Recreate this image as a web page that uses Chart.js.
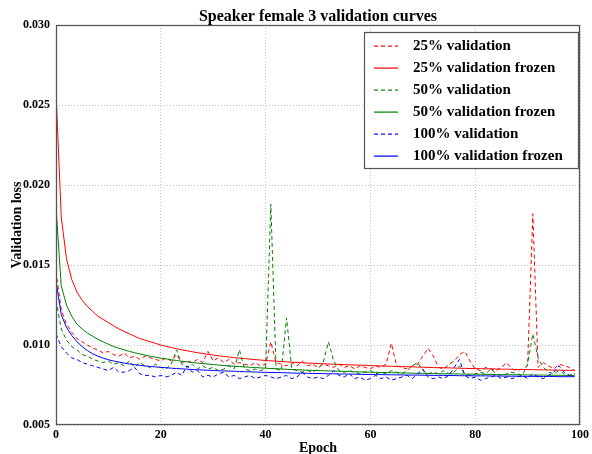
<!DOCTYPE html>
<html>
<head>
<meta charset="utf-8">
<script src="https://cdn.jsdelivr.net/npm/chart.js@4/dist/chart.umd.min.js"></script>
<style>
html,body{margin:0;padding:0;background:#fff;}
#wrap{width:592px;height:454px;position:relative;}
</style>
</head>
<body>
<div id="wrap"><canvas id="c" width="592" height="454"></canvas></div>
<script>
const epochs = [0,1,2,3,4,5,6,7,8,9,10,11,12,13,14,15,16,17,18,19,20,21,22,23,24,25,26,27,28,29,30,31,32,33,34,35,36,37,38,39,40,41,42,43,44,45,46,47,48,49,50,51,52,53,54,55,56,57,58,59,60,61,62,63,64,65,66,67,68,69,70,71,72,73,74,75,76,77,78,79,80,81,82,83,84,85,86,87,88,89,90,91,92,93,94,95,96,97,98,99];

const val25 = [.0146,.0122,.0113,.0108,.0104,.0102,.0100,.0098,.0097,.0095,.0096,.0094,.0093,.0095,.0092,.0093,.0091,.0093,.0092,.0091,.0090,.0092,.0090,.0094,.0089,.0090,.0089,.0091,.0089,.0096,.0090,.0092,.0089,.0091,.0088,.0089,.0088,.0087,.0089,.0087,.0088,.0102,.0089,.0088,.0087,.0089,.0087,.0090,.0087,.0088,.0086,.0088,.0087,.0086,.0088,.0086,.0087,.0085,.0087,.0086,.0085,.0087,.0086,.0088,.0101,.0087,.0086,.0085,.0087,.0088,.0093,.0098,.0093,.0086,.0085,.0088,.0090,.0094,.0096,.0090,.0085,.0084,.0086,.0085,.0084,.0086,.0089,.0085,.0084,.0085,.0087,.0182,.0086,.0089,.0087,.0085,.0088,.0087,.0086,.0084];

const frozen25 = [.0258,.0180,.0154,.0141,.0133,.0128,.0124,.0121,.0118,.0116,.0114,.0112,.0110,.01085,.0107,.01055,.0104,.0103,.0102,.0101,.0100,.00992,.00984,.00977,.00970,.00964,.00958,.00952,.00947,.00942,.00937,.00933,.00929,.00925,.00921,.00918,.00915,.00912,.00909,.00906,.00903,.00901,.00899,.00897,.00895,.00893,.00891,.00889,.00887,.00886,.00884,.00883,.00881,.00880,.00879,.00877,.00876,.00875,.00874,.00873,.00871,.00870,.00869,.00868,.00867,.00866,.00865,.00864,.00863,.00862,.00861,.00860,.00859,.00858,.00858,.00857,.00856,.00855,.00854,.00853,.00853,.00852,.00851,.00851,.00850,.00849,.00849,.00848,.00847,.00847,.00846,.00846,.00845,.00845,.00844,.00843,.00843,.00842,.00842,.00841];

const val50 = [.0128,.0110,.0103,.0099,.0097,.0094,.0093,.0091,.0090,.0089,.0090,.0088,.0089,.0087,.0090,.0086,.0089,.0087,.0086,.0088,.0086,.0085,.0088,.0097,.0088,.0086,.0088,.0085,.0087,.0085,.0086,.0084,.0085,.0087,.0085,.0097,.0085,.0084,.0085,.0084,.0085,.0188,.0085,.0084,.0117,.0085,.0084,.0083,.0084,.0083,.0085,.0089,.0102,.0090,.0084,.0083,.0084,.0083,.0082,.0083,.0084,.0082,.0083,.0082,.0084,.0083,.0082,.0084,.0087,.0089,.0084,.0082,.0083,.0082,.0084,.0082,.0083,.0087,.0082,.0081,.0082,.0083,.0082,.0085,.0082,.0081,.0082,.0083,.0082,.0081,.0088,.0107,.0092,.0086,.0083,.0082,.0084,.0082,.0081,.0082];

const frozen50 = [.0186,.0137,.0125,.0118,.0113,.0110,.01075,.01055,.01035,.0102,.01005,.0099,.0098,.0097,.0096,.00952,.00944,.00937,.00930,.00924,.00918,.00913,.00908,.00903,.00899,.00895,.00891,.00887,.00884,.00881,.00878,.00875,.00872,.00870,.00867,.00865,.00863,.00861,.00859,.00857,.00855,.00853,.00852,.00850,.00848,.00847,.00845,.00844,.00843,.00841,.00840,.00839,.00838,.00837,.00836,.00835,.00834,.00833,.00832,.00831,.00830,.00829,.00828,.00828,.00827,.00826,.00825,.00825,.00824,.00823,.00823,.00822,.00821,.00821,.00820,.00820,.00819,.00819,.00818,.00818,.00817,.00817,.00816,.00816,.00815,.00815,.00814,.00814,.00814,.00813,.00813,.00812,.00812,.00812,.00811,.00811,.00811,.00810,.00810,.00810];

const val100 = [.0107,.0099,.0095,.0092,.0091,.0089,.0088,.0087,.0086,.0085,.0084,.0086,.0083,.0083,.0084,.0086,.0082,.0081,.0081,.0080,.0081,.0080,.0081,.0083,.0081,.0087,.0083,.0084,.0080,.0081,.0080,.0082,.0083,.0080,.0081,.0079,.0080,.0081,.0079,.0080,.0081,.0080,.0079,.0080,.0081,.0079,.0080,.0083,.0080,.0079,.0080,.0079,.0081,.0084,.0081,.0080,.0082,.0079,.0080,.0078,.0079,.0081,.0079,.0080,.0078,.0079,.0080,.0081,.0079,.0082,.0085,.0080,.0079,.0080,.0079,.0081,.0086,.0091,.0081,.0079,.0080,.0078,.0079,.0080,.0081,.0079,.0080,.0079,.0080,.0081,.0079,.0082,.0080,.0079,.0081,.0083,.0087,.0083,.0081,.0082];

const frozen100 = [.0140,.0119,.0111,.0106,.0102,.00990,.00965,.00945,.00930,.00918,.00908,.00900,.00893,.00887,.00882,.00877,.00873,.00869,.00866,.00863,.00860,.00858,.00855,.00853,.00851,.00849,.00847,.00845,.00844,.00842,.00841,.00839,.00838,.00837,.00836,.00834,.00833,.00832,.00831,.00830,.00829,.00828,.00828,.00827,.00826,.00825,.00824,.00824,.00823,.00822,.00822,.00821,.00820,.00820,.00819,.00819,.00818,.00818,.00817,.00816,.00816,.00815,.00815,.00814,.00814,.00813,.00813,.00812,.00812,.00812,.00811,.00811,.00810,.00810,.00810,.00809,.00809,.00808,.00808,.00808,.00807,.00807,.00807,.00806,.00806,.00806,.00805,.00805,.00805,.00804,.00804,.00804,.00804,.00803,.00803,.00803,.00802,.00802,.00802,.00802];

const seriesLabels = ['25% validation','25% validation frozen','50% validation','50% validation frozen','100% validation','100% validation frozen'];
const seriesValues = [val25, frozen25, val50, frozen50, val100, frozen100];
const seriesColors = ['rgb(255,0,0)','rgb(255,0,0)','rgb(0,128,0)','rgb(0,128,0)','rgb(0,0,255)','rgb(0,0,255)'];
const seriesDashed = [true,false,true,false,true,false];

const titleText = 'Speaker female 3 validation curves';
const xTitle = 'Epoch';
const yTitle = 'Validation loss';
const FONT = "'Liberation Serif', 'DejaVu Serif', serif";

const datasets = seriesValues.map((vals, i) => ({
  label: seriesLabels[i],
  data: epochs.map((e, j) => ({x: e, y: vals[j]})),
  borderColor: seriesColors[i],
  backgroundColor: seriesColors[i],
  borderWidth: 1,
  borderDash: seriesDashed[i] ? [4, 3] : [],
  pointRadius: 0,
  tension: 0,
  fill: false,
  order: seriesValues.length - i
}));

const framePlugin = {
  id: 'frame',
  afterDatasetsDraw(chart) {
    const {ctx, chartArea: a} = chart;
    ctx.save();
    ctx.strokeStyle = '#555';
    ctx.lineWidth = 1.3;
    ctx.setLineDash([]);
    ctx.strokeRect(Math.round(a.left) + 0.5, Math.round(a.top) + 0.5,
      Math.round(a.right - a.left) - 1, Math.round(a.bottom - a.top) - 1);
    ctx.restore();
  },
  afterDraw(chart) {
    const ctx = chart.ctx;
    const bx = 364, by = 32, bw = 214, bh = 136;
    ctx.save();
    ctx.setLineDash([]);
    ctx.fillStyle = '#fff';
    ctx.fillRect(bx, by, bw, bh);
    ctx.strokeStyle = '#555';
    ctx.lineWidth = 1.2;
    ctx.strokeRect(bx + 0.5, by + 0.5, bw, bh);
    seriesLabels.forEach((label, i) => {
      const y = 45.5 + i * 22;
      ctx.fillStyle = seriesColors[i];
      if (seriesDashed[i]) {
        for (let x = 374; x < 398; x += 7) {
          ctx.fillRect(x, y, Math.min(4, 398 - x), 1.2);
        }
      } else {
        ctx.fillRect(374, y, 24, 1.2);
      }
    });
    ctx.font = 'bold 15px ' + FONT;
    ctx.textBaseline = 'middle';
    ctx.textAlign = 'left';
    ctx.fillStyle = '#000';
    seriesLabels.forEach((label, i) => {
      ctx.fillText(label, 413, 45 + i * 22 + 1);
    });
    ctx.restore();
  }
};

new Chart(document.getElementById('c'), {
  type: 'line',
  data: {datasets},
  plugins: [framePlugin],
  options: {
    responsive: false,
    animation: false,
    devicePixelRatio: 1,
    layout: {padding: {left: 0, right: 0, top: 0, bottom: 0}},
    plugins: {
      legend: {display: false},
      tooltip: {enabled: false},
      title: {
        display: true,
        fullSize: false,
        text: titleText,
        color: '#000',
        font: {family: FONT, size: 16, weight: 'bold', lineHeight: 1.0},
        padding: {top: 9, bottom: 0}
      }
    },
    scales: {
      x: {
        type: 'linear',
        min: 0, max: 100,
        ticks: {stepSize: 20, color: '#000', padding: 3,
          font: {family: FONT, size: 12, weight: 'bold'}},
        grid: {color: '#c4c4c4', drawTicks: false, lineWidth: 1},
        border: {display: false, dash: [1, 2]},
        title: {display: true, text: xTitle, color: '#000',
          font: {family: FONT, size: 14, weight: 'bold', lineHeight: 0.8}, padding: {top: 0, bottom: 0}},
        afterFit(s) { s.height = 29; }
      },
      y: {
        type: 'linear',
        min: 0.005, max: 0.030,
        ticks: {stepSize: 0.005, color: '#000', padding: 6,
          font: {family: FONT, size: 12, weight: 'bold'},
          callback: v => v.toFixed(3)},
        grid: {color: '#c4c4c4', drawTicks: false, lineWidth: 1},
        border: {display: false, dash: [1, 2]},
        title: {display: true, text: yTitle, color: '#000',
          font: {family: FONT, size: 14, weight: 'bold'}, padding: {top: 9, bottom: 0}},
        afterFit(s) { s.width = 56; }
      }
    }
  }
});
</script>
</body>
</html>
